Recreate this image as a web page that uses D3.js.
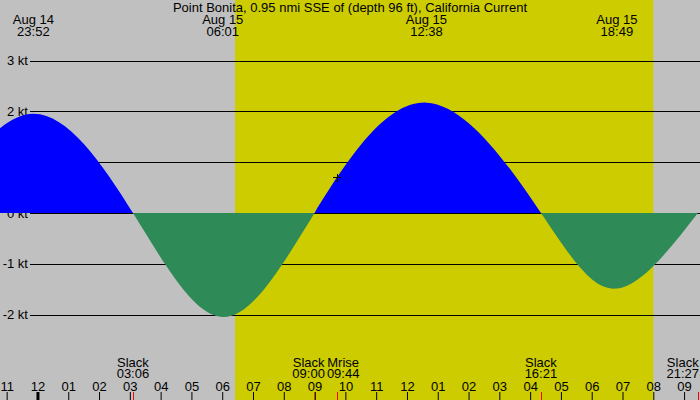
<!DOCTYPE html>
<html>
<head>
<meta charset="utf-8">
<script src="https://cdn.jsdelivr.net/npm/d3@7"></script>
<style>
  body { margin: 0; background: #c0c0c0; }
  svg { display: block; font-family: "Liberation Sans", Arial, sans-serif; font-size: 13px; }
</style>
</head>
<body>
<div id="chart"></div>
<script>
const title = "Point Bonita, 0.95 nmi SSE of (depth 96 ft), California Current"

// visible window
const viewStart = "2026-08-14 22:47"
const viewEnd = "2026-08-15 21:31"

// max flood (+) / max ebb (-), kt
const peakTimes = ["2026-08-14 23:52", "2026-08-15 06:01", "2026-08-15 12:38", "2026-08-15 18:49"]
const peakSpeeds = [1.95, -2.05, 2.17, -1.49]

// slack water (first one is before the window)
const slackTimes = ["2026-08-14 20:35", "2026-08-15 03:06", "2026-08-15 09:00", "2026-08-15 16:21", "2026-08-15 21:27"]

const moonrise = "2026-08-15 09:44"
const sunrise = "2026-08-15 06:25"
const sunset = "2026-08-15 20:00"

const speedTicks = [-2, -1, 0, 1, 2, 3]

const W = 700, H = 400
const parse = d3.utcParse("%Y-%m-%d %H:%M")
const fmtDay = d3.utcFormat("%b %d")
const fmtTime = d3.utcFormat("%H:%M")

const t0 = parse(viewStart), t1 = parse(viewEnd)
const inView = (d) => d >= t0 && d <= t1

const x = d3.scaleUtc().domain([t0, t1]).range([0, W])
const y = d3.scaleLinear().domain([-2, 3]).range([314.5, 60.5])

// curve points: slacks at 0 and the peaks
const points = slackTimes.map((t) => ({ t: parse(t), v: 0 }))
  .concat(peakTimes.map((t, i) => ({ t: parse(t), v: peakSpeeds[i] })))
  .sort((a, b) => a.t - b.t)

const svg = d3.select("#chart").append("svg")
  .attr("width", W)
  .attr("height", H)

// night / day
svg.append("rect").attr("width", W).attr("height", H).attr("fill", "#c0c0c0")
svg.append("rect")
  .attr("x", x(parse(sunrise)))
  .attr("width", x(parse(sunset)) - x(parse(sunrise)))
  .attr("height", H)
  .attr("fill", "#cccc00")

// speed grid
svg.append("g")
  .attr("transform", "translate(30,0)")
  .call(d3.axisLeft(y).tickValues(speedTicks).tickSize(-(W - 30)).tickPadding(2).tickFormat((d) => `${d} kt`))
  .attr("font-size", null)
  .attr("font-family", null)
  .call((g) => g.select(".domain").remove())
  .call((g) => g.selectAll(".tick line").attr("stroke", "#000").attr("shape-rendering", "crispEdges"))
  .call((g) => g.selectAll(".tick text").attr("fill", "#000"))

// current area, blue for flood and green for ebb
const zeroY = y(0)
const defs = svg.append("defs")
defs.append("clipPath").attr("id", "clip-pos")
  .append("rect").attr("x", 0).attr("y", 0).attr("width", W).attr("height", Math.floor(zeroY) + 1)
defs.append("clipPath").attr("id", "clip-neg")
  .append("rect").attr("x", 0).attr("y", Math.floor(zeroY) + 1).attr("width", W).attr("height", H)

const area = d3.area()
  .curve(d3.curveNatural)
  .x((d) => x(d.t))
  .y0(zeroY)
  .y1((d) => y(d.v))

svg.append("path").datum(points).attr("d", area).attr("fill", "#0000ff").attr("clip-path", "url(#clip-pos)")
svg.append("path").datum(points).attr("d", area).attr("fill", "#2e8b57").attr("clip-path", "url(#clip-neg)")

// moonrise cross, placed on the curve
const line = d3.line().curve(d3.curveNatural).x((d) => x(d.t)).y((d) => y(d.v))
const guide = svg.append("path").datum(points).attr("d", line).attr("fill", "none").attr("stroke", "none")
const node = guide.node()
const mx = x(parse(moonrise))
let lo = 0, hi = node.getTotalLength()
for (let i = 0; i < 40; i++) {
  const mid = (lo + hi) / 2
  if (node.getPointAtLength(mid).x < mx) lo = mid
  else hi = mid
}
const my = node.getPointAtLength(lo).y
svg.append("path")
  .attr("d", `M${mx - 4},${my}H${mx + 4}M${mx},${my - 4}V${my + 4}`)
  .attr("stroke", "#000")
  .attr("shape-rendering", "crispEdges")

// title
svg.append("text")
  .attr("x", W / 2)
  .attr("y", 12)
  .attr("text-anchor", "middle")
  .text(title)

// two-line labels, pushed apart when they collide
function placeLabels(items, y1, y2) {
  const g = svg.append("g").attr("text-anchor", "middle")
  const groups = items.map((d) => {
    const lg = g.append("g")
    const a = lg.append("text").attr("y", y1).text(d.top)
    const b = lg.append("text").attr("y", y2).text(d.bottom)
    const w = Math.max(a.node().getComputedTextLength(), b.node().getComputedTextLength()) + 2
    return { x: x(d.t), w, lg }
  }).sort((a, b) => a.x - b.x)
  for (let i = 1; i < groups.length; i++) {
    const p = groups[i - 1], c = groups[i]
    const overlap = p.x + p.w / 2 - (c.x - c.w / 2)
    if (overlap > 0) {
      p.x -= overlap / 2
      c.x += overlap / 2
    }
  }
  groups.forEach((d) => {
    d.x = Math.max(d.w / 2, Math.min(W - d.w / 2, d.x))
    d.lg.attr("transform", `translate(${d.x},0)`)
  })
}

placeLabels(
  peakTimes.map(parse).filter(inView).map((t) => ({ t, top: fmtDay(t), bottom: fmtTime(t) })),
  24, 36
)

const events = slackTimes.map(parse).filter(inView).map((t) => ({ t, top: "Slack", bottom: fmtTime(t) }))
events.push({ t: parse(moonrise), top: "Mrise", bottom: moonrise.slice(11) })
placeLabels(events, 366.5, 378)

// event ticks
svg.append("g")
  .selectAll("line")
  .data(events)
  .join("line")
  .attr("x1", (d) => Math.round(x(d.t)) + 0.5)
  .attr("x2", (d) => Math.round(x(d.t)) + 0.5)
  .attr("y1", 392)
  .attr("y2", 400)
  .attr("stroke", "#ff0000")

// hour axis
svg.append("g")
  .attr("transform", `translate(0,${H})`)
  .call(d3.axisTop(x).tickValues(d3.utcHour.range(t0, t1)).tickSize(8).tickPadding(1).tickFormat(d3.utcFormat("%I")))
  .attr("font-size", null)
  .attr("font-family", null)
  .call((g) => g.select(".domain").remove())
  .call((g) => g.selectAll(".tick line").attr("stroke", "#000")
    .attr("stroke-width", (d) => d.getUTCHours() === 0 ? 3 : 1))
  .call((g) => g.selectAll(".tick text").attr("fill", "#000"))
</script>
</body>
</html>
